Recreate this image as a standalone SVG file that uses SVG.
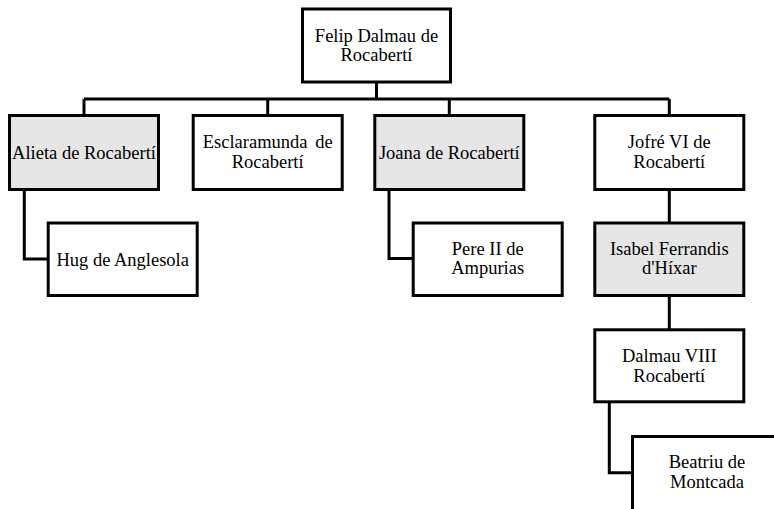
<svg xmlns="http://www.w3.org/2000/svg" width="774" height="509" viewBox="0 0 774 509">
<style>
.box{fill:#ffffff;stroke:#000000;stroke-width:3}
.hl{fill:#e6e6e6}
.lbl{font-family:"Liberation Serif","Times New Roman",serif;font-size:18.5px;fill:#000000;text-anchor:middle}
.conn{fill:none;stroke:#000000;stroke-width:3}
</style>
<rect width="774" height="509" fill="#ffffff"/>
<g id="connectors">
<path class="conn" d="M376.5 82 V99"/>
<path class="conn" d="M84 99 H669.3"/>
<path class="conn" d="M84 99 V115"/>
<path class="conn" d="M267.7 99 V115"/>
<path class="conn" d="M449.3 99 V115"/>
<path class="conn" d="M669.3 99 V115"/>
<path class="conn" d="M24.3 190 V259 H49"/>
<path class="conn" d="M389 190 V258.5 H414"/>
<path class="conn" d="M669.3 190 V223"/>
<path class="conn" d="M669.3 296 V330"/>
<path class="conn" d="M609.3 402 V472.7 H633"/>
</g>
<g id="felip">
<rect class="box" x="302.5" y="9" width="148" height="73"/>
<text class="lbl" x="376.5" y="41.7">Felip Dalmau de</text>
<text class="lbl" x="376.5" y="60.7">Rocabertí</text>
</g>
<g id="alieta">
<rect class="box hl" x="9.5" y="115.5" width="149" height="74"/>
<text class="lbl" x="84" y="159">Alieta de Rocabertí</text>
</g>
<g id="esclaramunda">
<rect class="box" x="193.2" y="115.5" width="149" height="74"/>
<text class="lbl" x="267.7" y="148" word-spacing="3">Esclaramunda de</text>
<text class="lbl" x="267.7" y="167.5">Rocabertí</text>
</g>
<g id="joana">
<rect class="box hl" x="374.8" y="115.5" width="149" height="74"/>
<text class="lbl" x="449.3" y="159">Joana de Rocabertí</text>
</g>
<g id="jofre">
<rect class="box" x="594.8" y="115.5" width="149" height="74"/>
<text class="lbl" x="669.3" y="148">Jofré VI de</text>
<text class="lbl" x="669.3" y="167.5">Rocabertí</text>
</g>
<g id="hug">
<rect class="box" x="48.2" y="223" width="149" height="72.5"/>
<text class="lbl" x="122.7" y="265.7">Hug de Anglesola</text>
</g>
<g id="pere">
<rect class="box" x="413.2" y="223" width="149" height="72.5"/>
<text class="lbl" x="487.7" y="254.5">Pere II de</text>
<text class="lbl" x="487.7" y="274">Ampurias</text>
</g>
<g id="isabel">
<rect class="box hl" x="594.8" y="223" width="149" height="72.5"/>
<text class="lbl" x="669.3" y="254.5">Isabel Ferrandis</text>
<text class="lbl" x="669.3" y="274">d'Híxar</text>
</g>
<g id="dalmau">
<rect class="box" x="594.8" y="329.8" width="149" height="72"/>
<text class="lbl" x="669.3" y="362.3">Dalmau VIII</text>
<text class="lbl" x="669.3" y="381.7">Rocabertí</text>
</g>
<g id="beatriu">
<rect class="box" x="632.5" y="436.5" width="149" height="74"/>
<text class="lbl" x="707" y="468.3">Beatriu de</text>
<text class="lbl" x="707" y="488.3">Montcada</text>
</g>
</svg>
